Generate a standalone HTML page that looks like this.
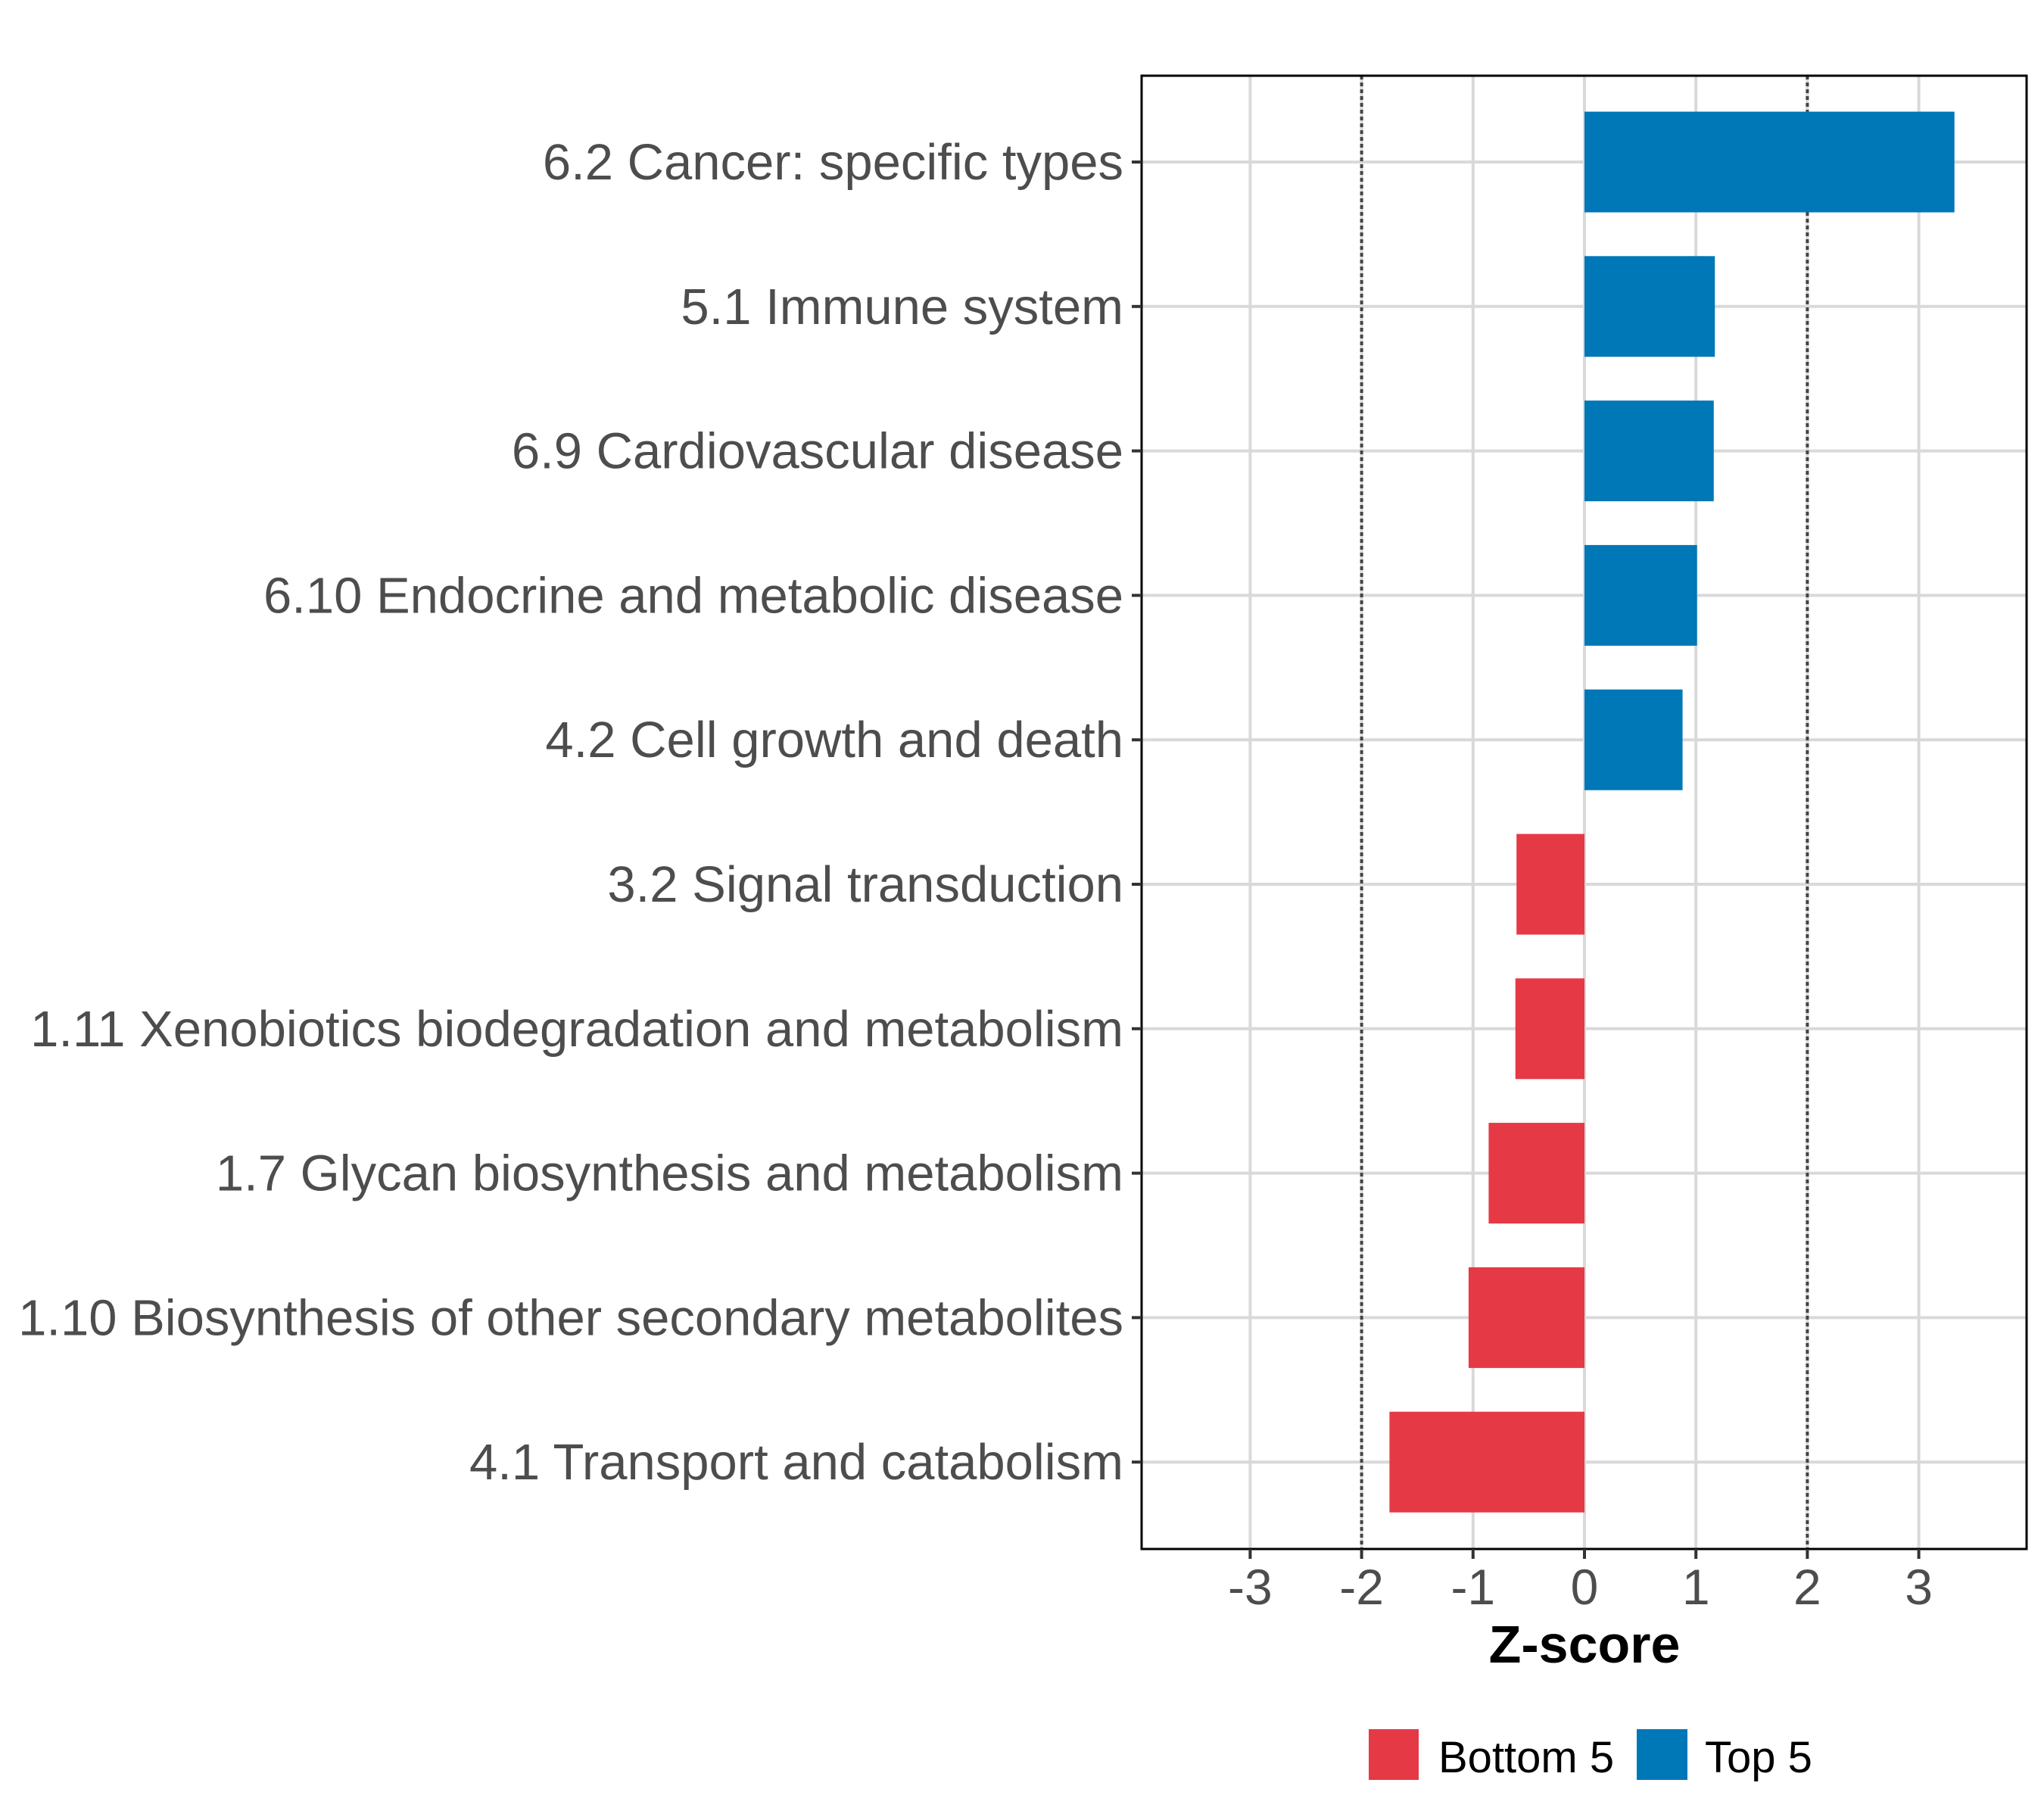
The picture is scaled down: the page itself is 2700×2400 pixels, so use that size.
<!DOCTYPE html>
<html><head><meta charset="utf-8"><style>
html,body{margin:0;padding:0;background:#fff;}
svg{display:block;font-family:"Liberation Sans",Arial,sans-serif;}
</style></head><body>
<svg id="chart" width="2700" height="2400" viewBox="0 0 2700 2400" xmlns="http://www.w3.org/2000/svg">
<rect width="2700" height="2400" fill="#fff"/>
<g id="grid"></g><g id="bars"></g><g id="axes"></g>
</svg>
<script>
const categories = ["6.2 Cancer: specific types","5.1 Immune system","6.9 Cardiovascular disease","6.10 Endocrine and metabolic disease","4.2 Cell growth and death","3.2 Signal transduction","1.11 Xenobiotics biodegradation and metabolism","1.7 Glycan biosynthesis and metabolism","1.10 Biosynthesis of other secondary metabolites","4.1 Transport and catabolism"];
const zscores = [3.32, 1.17, 1.16, 1.01, 0.88, -0.61, -0.62, -0.86, -1.04, -1.75];
const groups = ["Top 5","Top 5","Top 5","Top 5","Top 5","Bottom 5","Bottom 5","Bottom 5","Bottom 5","Bottom 5"];
const xTicks = [-3,-2,-1,0,1,2,3];
const thresholds = [-2, 2];

const NS="http://www.w3.org/2000/svg";
const L=1508,R=2677,T=100,B=2046;
const zeroX=2093, unit=147.2;
const x=v=>zeroX+v*unit;
const firstY=214, stepY=190.8;
const y=i=>firstY+i*stepY;
const barH=133;
const colors={"Top 5":"#0077B6","Bottom 5":"#E63946"};
function mk(tag,attrs,parent){const e=document.createElementNS(NS,tag);for(const k in attrs)e.setAttribute(k,attrs[k]);parent.appendChild(e);return e;}
const grid=document.getElementById('grid'),bars=document.getElementById('bars'),axes=document.getElementById('axes');

xTicks.forEach(t=>{
  const g=mk('line',{x1:x(t),x2:x(t),y1:T,y2:B,stroke:'#d9d9d9','stroke-width':4},grid);
  
  
});
categories.forEach((c,i)=>{
  const g=mk('line',{x1:L,x2:R,y1:y(i),y2:y(i),stroke:'#d9d9d9','stroke-width':4},grid);
  
  
});
thresholds.forEach(t=>{
  const g=mk('line',{x1:x(t),x2:x(t),y1:T,y2:B,stroke:'#444','stroke-width':4,'stroke-dasharray':'5 4'},grid);
  
  
});
zscores.forEach((v,i)=>{
  const x0=Math.min(x(0),x(v)),w=Math.abs(x(v)-x(0));
  const r=mk('rect',{x:x0,y:y(i)-barH/2,width:w,height:barH,fill:colors[groups[i]]},bars);
  
  
});
const frame=mk('rect',{x:L,y:T,width:R-L,height:B-T,fill:'none',stroke:'#000','stroke-width':3},axes);


categories.forEach((c,i)=>{
  mk('line',{x1:L-13,x2:L,y1:y(i),y2:y(i),stroke:'#333','stroke-width':4},axes);
  const t=mk('text',{x:1484,y:y(i)+23,'text-anchor':'end','font-size':67,fill:'#4d4d4d'},axes);
  t.textContent=c;
  
  
});
xTicks.forEach(v=>{
  mk('line',{x1:x(v),x2:x(v),y1:B,y2:B+13,stroke:'#333','stroke-width':4},axes);
  const t=mk('text',{x:x(v),y:2119,'text-anchor':'middle','font-size':66,fill:'#4d4d4d'},axes);
  t.textContent=String(v);
  
  
});
</script>
<svg style="position:absolute;left:0;top:0" width="2700" height="2400" xmlns="http://www.w3.org/2000/svg">
<text x="2093" y="2196" text-anchor="middle" font-family="Liberation Sans, sans-serif" font-weight="bold" font-size="70" fill="#000">Z-score</text>
<rect x="1808" y="2284" width="66" height="67" fill="#E63946"/>
<text x="1900" y="2341" font-family="Liberation Sans, sans-serif" font-size="58" fill="#000">Bottom 5</text>
<rect x="2162" y="2284" width="67" height="67" fill="#0077B6"/>
<text x="2252" y="2341" font-family="Liberation Sans, sans-serif" font-size="58" fill="#000">Top 5</text>
</svg>
</body></html>
